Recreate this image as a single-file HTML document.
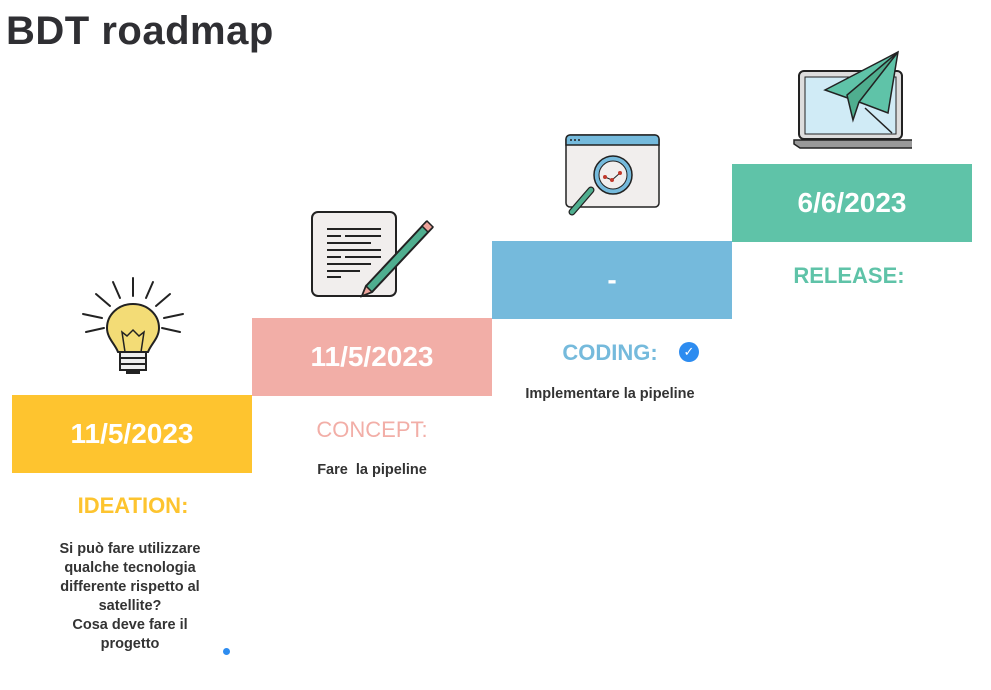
<!DOCTYPE html>
<html><head><meta charset="utf-8"><style>
body{margin:0;width:991px;height:690px;background:#fff;position:relative;overflow:hidden;font-family:"Liberation Sans",sans-serif;color:#333}
.a{position:absolute}
.box{position:absolute;width:240px;height:78px;color:#fff;font-weight:bold;font-size:28px;display:flex;align-items:center;justify-content:center}
.lab{position:absolute;width:240px;text-align:center;font-size:22px;font-weight:bold}
.txt{position:absolute;text-align:center;font-size:14.5px;font-weight:bold;color:#333;line-height:19px}
</style></head><body>
<div class="a" style="left:6px;top:9px;font-size:40px;font-weight:bold;color:#2f2f33;letter-spacing:0.5px">BDT roadmap</div>

<div class="box" style="left:12px;top:395px;background:#fec42f">11/5/2023</div>
<div class="box" style="left:252px;top:318px;background:#f2aea7">11/5/2023</div>
<div class="box" style="left:492px;top:241px;background:#75badc">-</div>
<div class="box" style="left:732px;top:164px;background:#5fc3a8">6/6/2023</div>

<div class="lab" style="left:13px;top:493px;color:#fdc42f">IDEATION:</div>
<div class="lab" style="left:252px;top:417px;color:#f2aea7;font-weight:normal">CONCEPT:</div>
<div class="lab" style="left:490px;top:340px;color:#75badc">CODING:</div>
<div class="a" style="left:679px;top:342px;width:20px;height:20px;border-radius:50%;background:#2d8cf0;color:#fff;font-size:13px;text-align:center;line-height:20px">✓</div>
<div class="lab" style="left:729px;top:263px;color:#5fc3a8">RELEASE:</div>

<div class="txt" style="left:30px;top:540px;width:200px">Si può fare utilizzare<br>qualche tecnologia<br>differente rispetto al<br>satellite?<br>Cosa deve fare il<br>progetto</div>
<div class="a" style="left:223px;top:648px;width:7px;height:7px;border-radius:50%;background:#2d8cf0"></div>
<div class="txt" style="left:272px;top:461px;width:200px">Fare&nbsp; la pipeline</div>
<div class="txt" style="left:500px;top:385px;width:220px">Implementare la pipeline</div>

<!-- bulb -->
<svg class="a" style="left:80px;top:276px" width="106" height="102" viewBox="0 0 106 102">
<g stroke="#222" stroke-width="2" stroke-linecap="round">
<line x1="53" y1="2" x2="53" y2="20"/><line x1="33" y1="6" x2="40" y2="22"/><line x1="73" y1="6" x2="66" y2="22"/>
<line x1="16" y1="18" x2="30" y2="30"/><line x1="90" y1="18" x2="76" y2="30"/><line x1="3" y1="38" x2="22" y2="42"/><line x1="103" y1="38" x2="84" y2="42"/>
<line x1="6" y1="56" x2="24" y2="52"/><line x1="100" y1="56" x2="82" y2="52"/></g>
<path d="M53 28c-15 0-26 11-26 24 0 10 8 16 11 24h30c3-8 11-14 11-24 0-13-11-24-26-24z" fill="#f3dc76" stroke="#222" stroke-width="2"/>
<rect x="40" y="76" width="26" height="18" fill="#eee" stroke="#222" stroke-width="2"/>
<line x1="40" y1="82" x2="66" y2="82" stroke="#222" stroke-width="2"/><line x1="40" y1="88" x2="66" y2="88" stroke="#222" stroke-width="2"/>
<path d="M46 94h14v4h-14z" fill="#222"/>
<path d="M45 76l-3-20 5 4 6-6 6 6 5-4-3 20" fill="none" stroke="#222" stroke-width="1.5"/>
</svg>

<!-- document -->
<svg class="a" style="left:310px;top:210px" width="125" height="90" viewBox="0 0 125 90">
<rect x="2" y="2" width="84" height="84" rx="6" fill="#f1eeed" stroke="#222" stroke-width="2"/>
<g stroke="#222" stroke-width="2">
<line x1="17" y1="19" x2="71" y2="19"/><line x1="17" y1="26" x2="31" y2="26"/><line x1="35" y1="26" x2="71" y2="26"/>
<line x1="17" y1="33" x2="61" y2="33"/><line x1="17" y1="40" x2="71" y2="40"/><line x1="17" y1="47" x2="31" y2="47"/><line x1="35" y1="47" x2="71" y2="47"/>
<line x1="17" y1="54" x2="61" y2="54"/><line x1="17" y1="61" x2="50" y2="61"/><line x1="17" y1="67" x2="31" y2="67"/></g>
<path d="M56 76l60-64 6 6-60 64-10 4z" fill="#4fae8f" stroke="#222" stroke-width="2"/>
<path d="M112 16l5-5 6 6-5 5z" fill="#eea49b" stroke="#222" stroke-width="1.5"/>
<path d="M52 86l4-10 6 6z" fill="#eea49b" stroke="#222" stroke-width="1.5"/>
</svg>

<!-- browser magnifier -->
<svg class="a" style="left:565px;top:134px" width="96" height="88" viewBox="0 0 96 88">
<rect x="1" y="1" width="93" height="72" rx="4" fill="#f1eeed" stroke="#222" stroke-width="1.5"/>
<path d="M1 5a4 4 0 014-4h85a4 4 0 014 4v6H1z" fill="#75badc" stroke="#222" stroke-width="1.5"/>
<circle cx="6" cy="6" r="1" fill="#222"/><circle cx="10" cy="6" r="1" fill="#222"/><circle cx="14" cy="6" r="1" fill="#222"/>
<path d="M26 56l-19 22" stroke="#222" stroke-width="7" stroke-linecap="round"/><path d="M26 56l-19 22" stroke="#4fae8f" stroke-width="4.5" stroke-linecap="round"/>
<circle cx="48" cy="41" r="19" fill="#75badc" stroke="#222" stroke-width="1.5"/>
<circle cx="48" cy="41" r="14" fill="#f1eeed" stroke="#222" stroke-width="1"/>
<polyline points="40,43 47,46 55,39" fill="none" stroke="#222" stroke-width="1"/>
<circle cx="40" cy="43" r="2" fill="#c0392b"/><circle cx="47" cy="46" r="2" fill="#c0392b"/><circle cx="55" cy="39" r="2" fill="#c0392b"/>
</svg>

<!-- laptop plane -->
<svg class="a" style="left:792px;top:50px" width="120" height="100" viewBox="0 0 120 100">
<rect x="7" y="21" width="103" height="68" rx="5" fill="#ddd" stroke="#222" stroke-width="2"/>
<rect x="13" y="27" width="91" height="57" fill="#d0ebf6" stroke="#222" stroke-width="1"/>
<path d="M2 90h124v4l-6 4H8l-6-4z" fill="#999" stroke="#222" stroke-width="1.5"/>
<path d="M33 40L106 2 96 63 67 52z" fill="#5fc3a8" stroke="#222" stroke-width="1.5"/>
<path d="M106 2L55 45 61 70 67 52z" fill="#4fae8f" stroke="#222" stroke-width="1.5"/>
<line x1="73" y1="58" x2="100" y2="83" stroke="#222" stroke-width="1.5"/>
</svg>
</body></html>
